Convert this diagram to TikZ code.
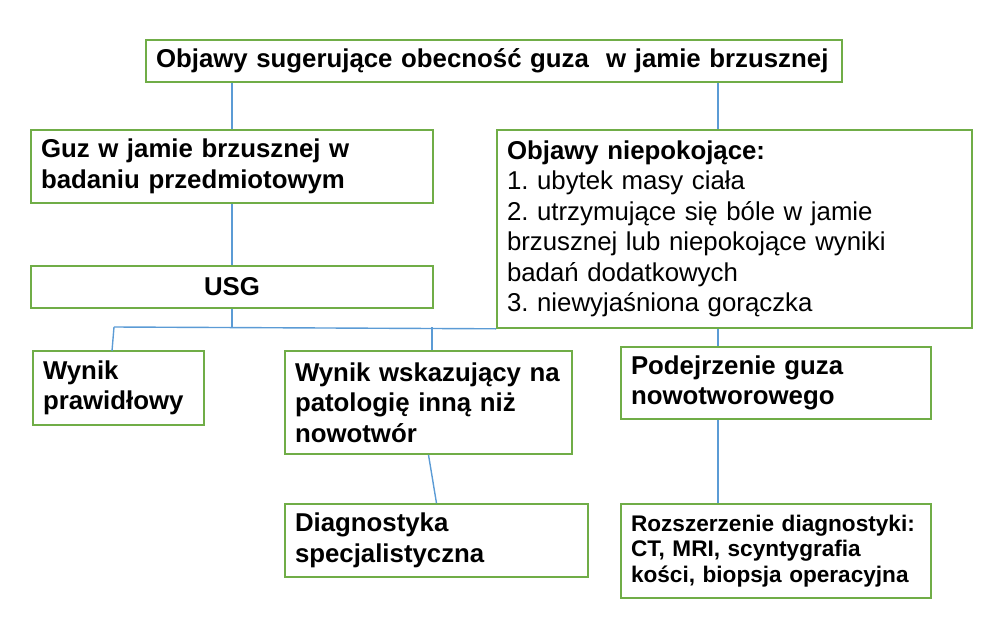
\documentclass[tikz,border=0pt]{standalone}
\usepackage{fontspec}
\setmainfont{Liberation Sans}
\usetikzlibrary{calc}
\definecolor{boxgreen}{HTML}{70AD47}
\definecolor{linkblue}{HTML}{5B9BD5}
\frenchspacing
\begin{document}
\begin{tikzpicture}[x=1pt,y=-1pt,
  box/.style={draw=boxgreen, line width=1.6pt, fill=white, rectangle,
    inner xsep=10pt, inner ysep=0pt, align=left,
    font=\fontsize{25.8}{30.5}\selectfont\bfseries},
  link/.style={draw=linkblue, line width=1.4pt}]
\useasboundingbox (0,0) rectangle (1000,618);

\node[box, minimum width=696pt, minimum height=42pt, text width=676pt] (top) at (494,61)
  {Objawy sugerujące obecność guza\ \ w jamie brzusznej};
\node[box, minimum width=402pt, minimum height=73pt, text width=382pt] (guz) at (232,166.5)
  {Guz w jamie brzusznej w\\badaniu przedmiotowym};
\node[box, minimum width=475pt, minimum height=198pt, text width=455pt] (obj) at (734.5,229)
  {Objawy niepokojące:\\\mdseries 1. ubytek masy ciała\\2. utrzymujące się bóle w jamie\\brzusznej lub niepokojące wyniki\\badań dodatkowych\\3. niewyjaśniona gorączka};
\node[box, minimum width=402pt, minimum height=42pt, text width=382pt, align=center] (usg) at (232,287)
  {USG};
\node[box, minimum width=171pt, minimum height=74pt, text width=151pt] (wyn) at (118.5,388)
  {Wynik\\prawidłowy};
\node[box, minimum width=287pt, minimum height=103pt, text width=267pt] (mid) at (428.5,402.5)
  {\mbox{Wynik wskazujący na}\\patologię inną niż\\nowotwór};
\node[box, minimum width=310pt, minimum height=72pt, text width=290pt] (pod) at (776,383)
  {Podejrzenie guza\\nowotworowego};
\node[box, minimum width=303pt, minimum height=73pt, text width=283pt] (diag) at (436.5,540.5)
  {Diagnostyka\\specjalistyczna};
\node[box, minimum width=310pt, minimum height=94pt, text width=290pt,
  font=\fontsize{22.6}{25.5}\selectfont\bfseries] (roz) at (776,551)
  {\mbox{Rozszerzenie diagnostyki:}\\CT, MRI, scyntygrafia\\\mbox{kości, biopsja operacyjna}};

% guide coordinates
\coordinate (xL) at (232,0);
\coordinate (xR) at (718,0);
\coordinate (xM) at (432,0);
\coordinate (busY) at (0,327);
\coordinate (busL) at (114,327);
\coordinate (wynTop) at (112,351);
\coordinate (busJ) at (xL |- busY);
\coordinate (busM) at (xM |- busY);

\draw[link] (top.south -| xL) -- (guz.north -| xL);
\draw[link] (top.south -| xR) -- (obj.north -| xR);
\draw[link] (guz.south -| xL) -- (usg.north -| xL);
\draw[link] (usg.south -| xL) -- (busJ);
\draw[link] (busL) -- (obj.south west);
\draw[link] (busL) -- (wynTop);
\draw[link] (busM) -- (mid.north -| xM);
\draw[link] (obj.south -| xR) -- (pod.north -| xR);
\draw[link] (pod.south -| xR) -- (roz.north -| xR);
\draw[link] (mid.south) -- (diag.north);
\end{tikzpicture}
\end{document}
